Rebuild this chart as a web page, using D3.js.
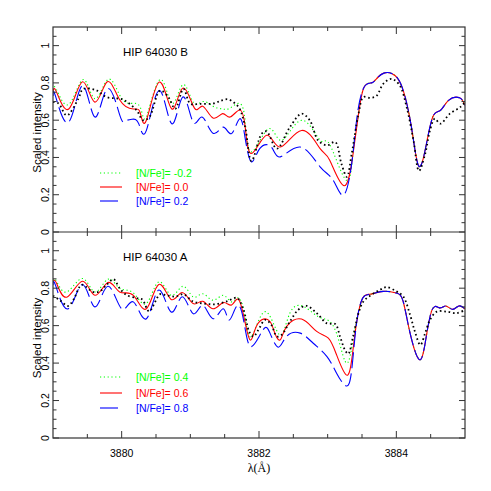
<!DOCTYPE html>
<html><head><meta charset="utf-8">
<script src="https://cdn.jsdelivr.net/npm/d3@7"></script>
<style>body{margin:0;background:#fff}</style>
</head><body>
<svg id="c" width="491" height="491"></svg>
<script>
// ---------- data ----------
const xTickLabels = [3880, 3882, 3884];
const yTickLabels = [0, 0.2, 0.4, 0.6, 0.8, 1];
const panelTitles = ["HIP 64030 B", "HIP 64030 A"];
const topLegend = ["[N/Fe]= -0.2", "[N/Fe]= 0.0", "[N/Fe]= 0.2"];
const botLegend = ["[N/Fe]= 0.4", "[N/Fe]= 0.6", "[N/Fe]= 0.8"];

// top panel (HIP 64030 B): synthetic spectra share the red wing
const topTail = [[3883.53,0.777],[3883.64,0.800],[3883.71,0.822],[3883.83,0.854],[3883.98,0.840],[3884.10,0.760],[3884.22,0.563],[3884.32,0.358],[3884.42,0.440],[3884.53,0.617],[3884.64,0.652],[3884.76,0.706],[3884.92,0.720],[3885.00,0.680]];
const topGreen = [[3879.00,0.760],[3879.05,0.765],[3879.23,0.685],[3879.44,0.818],[3879.61,0.715],[3879.80,0.818],[3879.97,0.735],[3880.12,0.690],[3880.27,0.670],[3880.36,0.620],[3880.56,0.818],[3880.73,0.690],[3880.89,0.790],[3881.04,0.697],[3881.18,0.700],[3881.33,0.675],[3881.47,0.660],[3881.58,0.665],[3881.72,0.690],[3881.80,0.590],[3881.89,0.430],[3882.14,0.554],[3882.33,0.492],[3882.62,0.599],[3882.89,0.492],[3883.03,0.470],[3883.27,0.278],[3883.37,0.430],[3883.45,0.635]];
const topRed = [[3879.00,0.750],[3879.05,0.752],[3879.23,0.660],[3879.43,0.806],[3879.61,0.697],[3879.79,0.806],[3879.97,0.710],[3880.17,0.660],[3880.27,0.640],[3880.36,0.600],[3880.55,0.805],[3880.73,0.660],[3880.89,0.772],[3881.06,0.665],[3881.18,0.675],[3881.33,0.612],[3881.47,0.635],[3881.58,0.617],[3881.72,0.655],[3881.80,0.560],[3881.89,0.421],[3882.11,0.519],[3882.31,0.456],[3882.62,0.545],[3882.89,0.447],[3883.03,0.385],[3883.24,0.248],[3883.37,0.420],[3883.45,0.635]];
const topBlue = [[3879.00,0.730],[3879.04,0.725],[3879.23,0.590],[3879.43,0.786],[3879.61,0.617],[3879.79,0.768],[3879.97,0.630],[3880.05,0.595],[3880.15,0.605],[3880.25,0.580],[3880.36,0.545],[3880.55,0.759],[3880.73,0.581],[3880.89,0.724],[3881.04,0.590],[3881.17,0.617],[3881.33,0.530],[3881.48,0.563],[3881.60,0.528],[3881.72,0.608],[3881.80,0.500],[3881.89,0.376],[3882.01,0.447],[3882.18,0.456],[3882.31,0.403],[3882.60,0.456],[3882.89,0.350],[3883.08,0.278],[3883.23,0.198],[3883.35,0.367],[3883.43,0.625]];
const topObs = [[3879.00,0.697],[3879.08,0.690],[3879.20,0.626],[3879.37,0.715],[3879.44,0.768],[3879.64,0.759],[3879.78,0.724],[3880.02,0.710],[3880.22,0.652],[3880.31,0.600],[3880.40,0.615],[3880.56,0.759],[3880.68,0.724],[3880.78,0.661],[3880.90,0.768],[3881.00,0.688],[3881.14,0.688],[3881.34,0.690],[3881.45,0.705],[3881.55,0.712],[3881.65,0.690],[3881.72,0.660],[3881.80,0.560],[3881.89,0.380],[3882.04,0.528],[3882.11,0.540],[3882.26,0.447],[3882.45,0.563],[3882.62,0.635],[3882.74,0.599],[3882.86,0.492],[3882.99,0.465],[3883.11,0.483],[3883.20,0.367],[3883.28,0.296],[3883.35,0.420],[3883.45,0.635],[3883.52,0.724],[3883.62,0.720],[3883.71,0.730],[3883.81,0.795],[3883.93,0.822],[3884.05,0.786],[3884.15,0.670],[3884.25,0.492],[3884.33,0.328],[3884.42,0.420],[3884.49,0.545],[3884.56,0.608],[3884.64,0.581],[3884.78,0.635],[3884.93,0.670],[3885.00,0.697]];

// bottom panel (HIP 64030 A)
const botTail = [[3883.51,0.747],[3883.62,0.768],[3883.81,0.783],[3884.00,0.774],[3884.10,0.729],[3884.20,0.560],[3884.33,0.420],[3884.42,0.507],[3884.52,0.684],[3884.63,0.695],[3884.72,0.705],[3884.82,0.687],[3884.91,0.705],[3885.00,0.690]];
const botGreen = [[3879.00,0.840],[3879.05,0.838],[3879.20,0.780],[3879.43,0.852],[3879.61,0.780],[3879.80,0.848],[3879.97,0.800],[3880.17,0.775],[3880.36,0.718],[3880.54,0.834],[3880.72,0.762],[3880.89,0.810],[3881.04,0.754],[3881.18,0.770],[3881.33,0.736],[3881.48,0.762],[3881.60,0.727],[3881.70,0.748],[3881.79,0.660],[3881.89,0.542],[3882.09,0.675],[3882.30,0.551],[3882.45,0.667],[3882.65,0.702],[3882.86,0.649],[3883.03,0.622],[3883.16,0.524],[3883.28,0.399],[3883.37,0.524],[3883.43,0.640]];
const botRed = [[3879.00,0.830],[3879.05,0.828],[3879.20,0.752],[3879.43,0.837],[3879.61,0.762],[3879.80,0.830],[3879.97,0.780],[3880.17,0.762],[3880.36,0.690],[3880.54,0.820],[3880.72,0.740],[3880.88,0.777],[3881.04,0.718],[3881.18,0.730],[3881.33,0.690],[3881.48,0.723],[3881.60,0.710],[3881.70,0.741],[3881.79,0.630],[3881.87,0.524],[3881.94,0.577],[3882.04,0.631],[3882.16,0.622],[3882.23,0.560],[3882.31,0.524],[3882.40,0.595],[3882.62,0.635],[3882.84,0.569],[3883.01,0.533],[3883.13,0.444],[3883.27,0.337],[3883.35,0.417],[3883.42,0.613]];
const botBlue = [[3879.00,0.816],[3879.04,0.812],[3879.22,0.690],[3879.43,0.820],[3879.61,0.700],[3879.80,0.810],[3880.00,0.690],[3880.17,0.727],[3880.36,0.637],[3880.54,0.790],[3880.72,0.673],[3880.88,0.754],[3881.04,0.664],[3881.18,0.709],[3881.33,0.637],[3881.48,0.690],[3881.57,0.630],[3881.69,0.709],[3881.79,0.600],[3881.89,0.488],[3882.06,0.578],[3882.16,0.560],[3882.28,0.485],[3882.40,0.542],[3882.60,0.560],[3882.79,0.506],[3882.99,0.435],[3883.13,0.346],[3883.27,0.278],[3883.35,0.364],[3883.42,0.610]];
const botObs = [[3879.00,0.760],[3879.10,0.736],[3879.22,0.705],[3879.30,0.740],[3879.42,0.818],[3879.58,0.780],[3879.68,0.783],[3879.78,0.818],[3879.88,0.848],[3879.97,0.800],[3880.07,0.764],[3880.22,0.747],[3880.30,0.740],[3880.40,0.677],[3880.56,0.768],[3880.65,0.762],[3880.78,0.755],[3880.90,0.768],[3881.04,0.729],[3881.20,0.718],[3881.35,0.714],[3881.52,0.728],[3881.68,0.748],[3881.77,0.690],[3881.86,0.566],[3881.92,0.542],[3881.99,0.577],[3882.09,0.631],[3882.18,0.604],[3882.26,0.542],[3882.33,0.551],[3882.45,0.622],[3882.57,0.684],[3882.69,0.706],[3882.84,0.667],[3882.99,0.612],[3883.11,0.609],[3883.18,0.542],[3883.25,0.471],[3883.30,0.449],[3883.37,0.542],[3883.45,0.667],[3883.52,0.729],[3883.64,0.765],[3883.76,0.791],[3883.86,0.806],[3884.00,0.783],[3884.10,0.756],[3884.20,0.658],[3884.27,0.569],[3884.35,0.497],[3884.42,0.560],[3884.49,0.631],[3884.59,0.675],[3884.73,0.675],[3884.88,0.667],[3885.00,0.684]];

// ---------- drawing ----------
const svg = d3.select("#c");
const L = 53, R = 465, T = 27, M = 232, B = 438;
const x = d3.scaleLinear().domain([3879, 3885]).range([L, R]);
const yTop = d3.scaleLinear().domain([0, 1.1]).range([M, T]);
const yBot = d3.scaleLinear().domain([0, 1.1]).range([B, M]);
const sans = "'Liberation Sans', Arial, sans-serif";
const frameCol = "#333";

const styles = [
  {color: "#00ff00", width: 1.1, dash: "1.2,2.6"},
  {color: "#ff0000", width: 1.1, dash: null},
  {color: "#0000ff", width: 1.1, dash: "16,5"}
];

function panel(y, series, obs, title, legend, legY, idx) {
  const clipId = "clip" + idx;
  svg.append("clipPath").attr("id", clipId).append("rect")
    .attr("x", L).attr("y", y.range()[1]).attr("width", R - L).attr("height", y.range()[0] - y.range()[1]);
  const g = svg.append("g").attr("clip-path", `url(#${clipId})`);
  const line = d3.line().x(d => x(d[0])).y(d => y(d[1])).curve(d3.curveNatural);
  const obsLine = d3.line().x(d => x(d[0])).y(d => y(d[1])).curve(d3.curveCatmullRom.alpha(0.5));
  series.forEach((s, i) => {
    g.append("path").attr("d", line(s)).attr("fill", "none")
      .attr("stroke", styles[i].color).attr("stroke-width", styles[i].width)
      .attr("stroke-dasharray", styles[i].dash);
  });
  g.append("path").attr("d", obsLine(obs)).attr("fill", "none")
    .attr("stroke", "#000").attr("stroke-width", 1.8).attr("stroke-dasharray", "1.6,2.8");

  // ticks: all four sides, inside
  const xMajor = d3.range(3880, 3885.01, 2);
  const xMinor = d3.range(3879.5, 3885, 0.5).filter(v => !xMajor.some(m => Math.abs(m - v) < 1e-6));
  const yMajor = d3.range(0, 1.101, 0.2);
  const yMinor = d3.range(0.05, 1.1, 0.05).filter(v => Math.abs(v / 0.2 - Math.round(v / 0.2)) > 1e-6);
  const [y0, y1] = y.range();
  const tk = svg.append("g").attr("stroke", frameCol).attr("stroke-width", 1);
  xMajor.concat(xMinor).forEach(v => {
    const len = xMajor.includes(v) ? 7 : 4;
    tk.append("line").attr("x1", x(v)).attr("x2", x(v)).attr("y1", y0).attr("y2", y0 - len);
    tk.append("line").attr("x1", x(v)).attr("x2", x(v)).attr("y1", y1).attr("y2", y1 + len);
  });
  yMajor.concat(yMinor).forEach(v => {
    const isMaj = yMajor.some(m => Math.abs(m - v) < 1e-6);
    const len = isMaj ? 6 : 3.5;
    tk.append("line").attr("y1", y(v)).attr("y2", y(v)).attr("x1", L).attr("x2", L + len);
    tk.append("line").attr("y1", y(v)).attr("y2", y(v)).attr("x1", R).attr("x2", R - len);
  });

  // y tick labels (rotated)
  yTickLabels.forEach(v => {
    svg.append("text").attr("transform", `translate(49,${y(v)}) rotate(-90)`)
      .attr("text-anchor", "middle").attr("font-family", sans).attr("font-size", 10.5)
      .attr("fill", "#000").text(String(v));
  });
  // y axis title
  svg.append("text").attr("transform", `translate(41,${(y0 + y1) / 2 + 3}) rotate(-90)`)
    .attr("text-anchor", "middle").attr("font-family", sans).attr("font-size", 11.5)
    .attr("fill", "#000").text("Scaled intensity");

  // title
  svg.append("text").attr("x", 123).attr("y", y1 + 29).attr("font-family", sans)
    .attr("font-size", 11.5).attr("fill", "#000").text(title);

  // legend
  legend.forEach((t, i) => {
    const ly = legY[i];
    svg.append("line").attr("x1", 100).attr("x2", i === 2 ? 118 : 122).attr("y1", ly).attr("y2", ly)
      .attr("stroke", styles[i].color).attr("stroke-width", styles[i].width)
      .attr("stroke-dasharray", i === 0 ? styles[0].dash : null);
    svg.append("text").attr("x", 136).attr("y", ly + 4).attr("font-family", sans)
      .attr("font-size", 10.5).attr("fill", styles[i].color).text(t);
  });
}

panel(yTop, [topGreen.concat(topTail), topRed.concat(topTail), topBlue.concat(topTail)], topObs, panelTitles[0], topLegend, [173, 187, 201], 0);
panel(yBot, [botGreen.concat(botTail), botRed.concat(botTail), botBlue.concat(botTail)], botObs, panelTitles[1], botLegend, [377, 393, 408], 1);

// frame
svg.append("rect").attr("x", L).attr("y", T).attr("width", R - L).attr("height", B - T)
  .attr("fill", "none").attr("stroke", frameCol).attr("stroke-width", 1.2);
svg.append("line").attr("x1", L).attr("x2", R).attr("y1", M).attr("y2", M)
  .attr("stroke", frameCol).attr("stroke-width", 1.2);

// x tick labels
xTickLabels.forEach(v => {
  svg.append("text").attr("x", x(v)).attr("y", 457).attr("text-anchor", "middle")
    .attr("font-family", sans).attr("font-size", 10.5).attr("fill", "#000").text(v);
});
svg.append("text").attr("x", x(3882)).attr("y", 472).attr("text-anchor", "middle")
  .attr("font-family", "'Liberation Serif', 'DejaVu Serif', serif").attr("font-size", 12)
  .attr("fill", "#000").text("λ(Å)");
</script>
</body></html>
